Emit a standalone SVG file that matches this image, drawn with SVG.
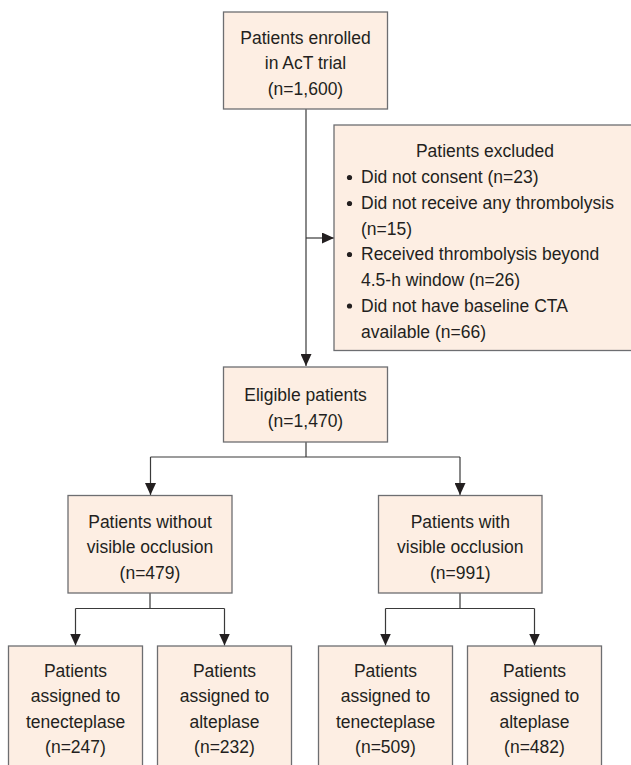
<svg xmlns="http://www.w3.org/2000/svg" width="631" height="765" viewBox="0 0 631 765">
<defs>
<style>
.box{fill:#fdeee3;stroke:#6d6e71;stroke-width:1.3}
.t{font-family:"Liberation Sans",Arial,sans-serif;font-size:17.5px;fill:#231f20;text-anchor:middle}
.tl{font-family:"Liberation Sans",Arial,sans-serif;font-size:17.5px;fill:#231f20}
.ln{fill:none;stroke:#3a3a3a;stroke-width:1.2}
.dot{fill:#231f20}
</style>
<marker id="ah" markerUnits="userSpaceOnUse" markerWidth="12" markerHeight="11" viewBox="0 0 12 11" refX="12" refY="5.5" orient="auto">
<path d="M0,0 L12,5.5 L0,11 Z" fill="#231f20"/>
</marker>
</defs>
<rect width="631" height="765" fill="#ffffff"/>
<g id="connectors">
<path class="ln" d="M306,109 V366" marker-end="url(#ah)"/>
<path class="ln" d="M306,238 H334" marker-end="url(#ah)"/>
<path class="ln" d="M306,442 V457 M150.5,457 H460"/>
<path class="ln" d="M150.5,457 V495" marker-end="url(#ah)"/>
<path class="ln" d="M460,457 V495" marker-end="url(#ah)"/>
<path class="ln" d="M150,593 V608.5 M75.5,608.5 H224.5"/>
<path class="ln" d="M75.5,608.5 V645.5" marker-end="url(#ah)"/>
<path class="ln" d="M224.5,608.5 V645.5" marker-end="url(#ah)"/>
<path class="ln" d="M460,593 V608.5 M385.5,608.5 H534.5"/>
<path class="ln" d="M385.5,608.5 V645.5" marker-end="url(#ah)"/>
<path class="ln" d="M534.5,608.5 V645.5" marker-end="url(#ah)"/>
</g>
<g id="enrolled">
<rect class="box" x="223.5" y="12" width="164" height="97"/>
<text class="t" x="305.5" y="43.5">Patients enrolled</text>
<text class="t" x="305.5" y="68.5">in AcT trial</text>
<text class="t" x="305.5" y="95">(n=1,600)</text>
</g>
<g id="excluded">
<rect class="box" x="334" y="125" width="310" height="225.5"/>
<text class="t" x="485" y="157">Patients excluded</text>
<circle class="dot" cx="349.5" cy="177.5" r="2.6"/>
<text class="tl" x="361" y="183.3">Did not consent (n=23)</text>
<circle class="dot" cx="349.5" cy="203.5" r="2.6"/>
<text class="tl" x="361" y="209.3">Did not receive any thrombolysis</text>
<text class="tl" x="361" y="234.5">(n=15)</text>
<circle class="dot" cx="349.5" cy="254.5" r="2.6"/>
<text class="tl" x="361" y="260">Received thrombolysis beyond</text>
<text class="tl" x="361" y="286">4.5-h window (n=26)</text>
<circle class="dot" cx="349.5" cy="306" r="2.6"/>
<text class="tl" x="361" y="311.7">Did not have baseline CTA</text>
<text class="tl" x="361" y="337.7">available (n=66)</text>
</g>
<g id="eligible">
<rect class="box" x="223.5" y="367" width="164" height="75"/>
<text class="t" x="305.5" y="401">Eligible patients</text>
<text class="t" x="305.5" y="427">(n=1,470)</text>
</g>
<g id="without">
<rect class="box" x="68" y="495.5" width="164" height="97.5"/>
<text class="t" x="150" y="527.5">Patients without</text>
<text class="t" x="150" y="553">visible occlusion</text>
<text class="t" x="150" y="578.5">(n=479)</text>
</g>
<g id="with">
<rect class="box" x="378.5" y="495.5" width="163.5" height="97.5"/>
<text class="t" x="460.3" y="527.5">Patients with</text>
<text class="t" x="460.3" y="553">visible occlusion</text>
<text class="t" x="460.3" y="578.5">(n=991)</text>
</g>
<g id="without-tnk">
<rect class="box" x="8.5" y="646" width="134" height="130"/>
<text class="t" x="75.5" y="677">Patients</text>
<text class="t" x="75.5" y="702">assigned to</text>
<text class="t" x="75.5" y="727.5">tenecteplase</text>
<text class="t" x="75.5" y="752.5">(n=247)</text>
</g>
<g id="without-alt">
<rect class="box" x="157.5" y="646" width="134" height="130"/>
<text class="t" x="224.5" y="677">Patients</text>
<text class="t" x="224.5" y="702">assigned to</text>
<text class="t" x="224.5" y="727.5">alteplase</text>
<text class="t" x="224.5" y="752.5">(n=232)</text>
</g>
<g id="with-tnk">
<rect class="box" x="318.5" y="646" width="134" height="130"/>
<text class="t" x="385.5" y="677">Patients</text>
<text class="t" x="385.5" y="702">assigned to</text>
<text class="t" x="385.5" y="727.5">tenecteplase</text>
<text class="t" x="385.5" y="752.5">(n=509)</text>
</g>
<g id="with-alt">
<rect class="box" x="467.5" y="646" width="134" height="130"/>
<text class="t" x="534.5" y="677">Patients</text>
<text class="t" x="534.5" y="702">assigned to</text>
<text class="t" x="534.5" y="727.5">alteplase</text>
<text class="t" x="534.5" y="752.5">(n=482)</text>
</g>
</svg>
